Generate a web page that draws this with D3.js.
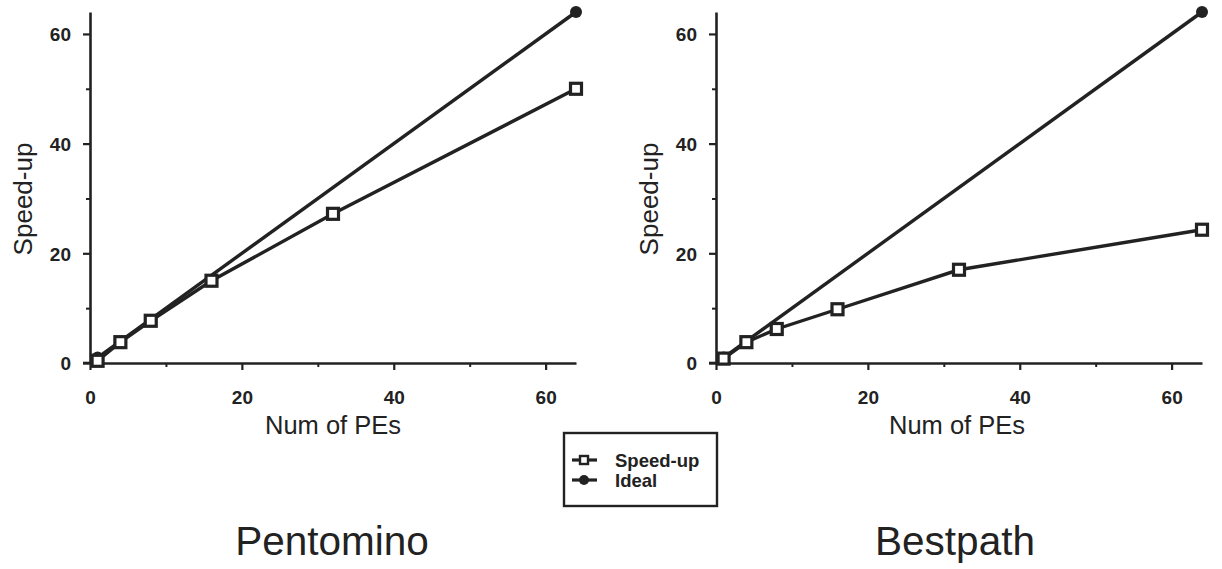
<!DOCTYPE html>
<html><head><meta charset="utf-8">
<script src="https://cdn.jsdelivr.net/npm/d3@7"></script>
<style>
body{margin:0;background:#fff;}
svg{display:block;}
text{font-family:"Liberation Sans",Arial,Helvetica,sans-serif;fill:#222;}
</style>
</head><body>
<svg id="c" width="1222" height="569"></svg>
<script>
// ---- data ----
const pes = [1, 4, 8, 16, 32, 64];
const pentominoSpeedup = [0.4, 3.8, 7.7, 15.0, 27.2, 50.0];
const bestpathSpeedup = [0.8, 3.8, 6.2, 9.8, 17.0, 24.3];
const idealPEs = [1, 64];
const idealValues = [1, 64];
const majorTicks = [0, 20, 40, 60];
const minorTicks = [10, 30, 50];
const titles = ["Pentomino", "Bestpath"];
const xLabel = "Num of PEs";
const yLabel = "Speed-up";
const legendLabels = ["Speed-up", "Ideal"];

const svg = d3.select("#c");
const ink = "#222";

const panels = [
  {x0: 90, x1: 576, speed: pentominoSpeedup, title: titles[0], titleX: 332, xLabX: 333, yLabX: 32},
  {x0: 716, x1: 1202, speed: bestpathSpeedup, title: titles[1], titleX: 955, xLabX: 957, yLabX: 658}
];
const yTop = 12, yBot = 363;

panels.forEach(p => {
  const x = d3.scaleLinear().domain([0, 64]).range([p.x0, p.x1]);
  const y = d3.scaleLinear().domain([0, 64]).range([yBot, yTop]);
  const g = svg.append("g");

  // minor ticks
  g.append("g").attr("transform", `translate(0,${yBot})`)
    .call(d3.axisBottom(x).tickValues(minorTicks).tickSize(4).tickFormat(""))
    .call(a => a.select(".domain").remove())
    .call(a => a.selectAll("line").attr("stroke", ink).attr("stroke-width", 2));
  g.append("g").attr("transform", `translate(${p.x0},0)`)
    .call(d3.axisLeft(y).tickValues(minorTicks).tickSize(4).tickFormat(""))
    .call(a => a.select(".domain").remove())
    .call(a => a.selectAll("line").attr("stroke", ink).attr("stroke-width", 2));

  // major axes
  const xa = g.append("g").attr("transform", `translate(0,${yBot})`)
    .call(d3.axisBottom(x).tickValues(majorTicks).tickSize(7).tickPadding(21).tickSizeOuter(0));
  const ya = g.append("g").attr("transform", `translate(${p.x0},0)`)
    .call(d3.axisLeft(y).tickValues(majorTicks).tickSize(7).tickPadding(12).tickSizeOuter(0));
  [xa, ya].forEach(a => {
    a.select(".domain").attr("stroke", ink).attr("stroke-width", 2.6);
    a.selectAll(".tick line").attr("stroke", ink).attr("stroke-width", 2.2);
    a.selectAll(".tick text").attr("fill", ink).style("font-size", "19px").style("font-weight", "bold");
  });
  ya.selectAll(".tick text").attr("dy", "0.36em");
  // extend x axis a bit to the left of y axis
  g.append("line").attr("x1", p.x0 - 7).attr("x2", p.x0).attr("y1", yBot).attr("y2", yBot)
    .attr("stroke", ink).attr("stroke-width", 2.6);

  const line = d3.line().x(d => x(d[0])).y(d => y(d[1]));
  // ideal
  const idealData = idealPEs.map((v, i) => [v, idealValues[i]]);
  g.append("path").datum(idealData).attr("d", line).attr("fill", "none")
    .attr("stroke", ink).attr("stroke-width", 3.4);
  g.selectAll(".idot").data(idealData).enter().append("circle")
    .attr("cx", d => x(d[0])).attr("cy", d => y(d[1])).attr("r", 6).attr("fill", ink);

  // speed-up
  const spData = pes.map((v, i) => [v, p.speed[i]]);
  g.append("path").datum(spData).attr("d", line).attr("fill", "none")
    .attr("stroke", ink).attr("stroke-width", 3.4);
  g.selectAll(".sq").data(spData).enter().append("rect")
    .attr("x", d => x(d[0]) - 5.5).attr("y", d => y(d[1]) - 5.5)
    .attr("width", 11).attr("height", 11)
    .attr("fill", "#fff").attr("stroke", ink).attr("stroke-width", 3.2);

  // labels
  svg.append("text").attr("x", p.xLabX).attr("y", 434).attr("text-anchor", "middle")
    .style("font-size", "25.5px").text(xLabel);
  svg.append("text").attr("transform", `translate(${p.yLabX},199) rotate(-90)`)
    .attr("text-anchor", "middle").style("font-size", "26px").text(yLabel);
  svg.append("text").attr("x", p.titleX).attr("y", 555).attr("text-anchor", "middle")
    .style("font-size", "40.5px").attr("fill", "#333").text(p.title);
});

// legend
const lg = svg.append("g");
lg.append("rect").attr("x", 564).attr("y", 433).attr("width", 153).attr("height", 73)
  .attr("fill", "#fff").attr("stroke", ink).attr("stroke-width", 2.4);
legendLabels.forEach((lab, i) => {
  const yy = 460 + i * 20;
  lg.append("line").attr("x1", 572).attr("x2", 597).attr("y1", yy).attr("y2", yy)
    .attr("stroke", ink).attr("stroke-width", 3.2);
  if (i === 0) {
    lg.append("rect").attr("x", 580).attr("y", yy - 4).attr("width", 8).attr("height", 8)
      .attr("fill", "#fff").attr("stroke", ink).attr("stroke-width", 2.4);
  } else {
    lg.append("circle").attr("cx", 584).attr("cy", yy).attr("r", 5).attr("fill", ink);
  }
  lg.append("text").attr("x", 615).attr("y", yy + 7).style("font-size", "18.5px")
    .style("font-weight", "bold").text(lab);
});
</script>
</body></html>
